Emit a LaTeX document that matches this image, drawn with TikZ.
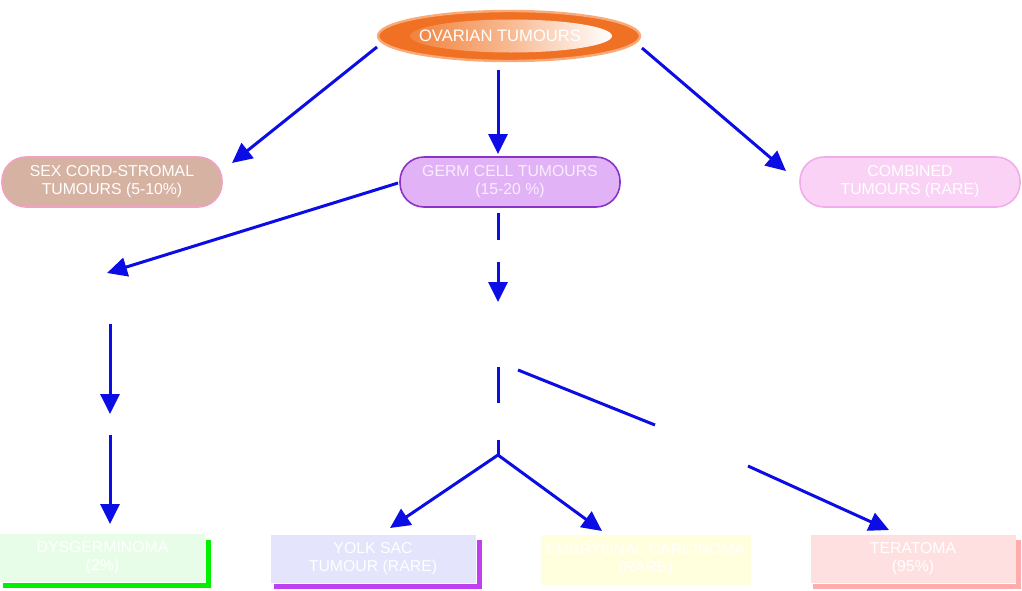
\documentclass[tikz,border=0pt]{standalone}
\usepackage{fontspec}
\setmainfont{Liberation Sans}
\usetikzlibrary{arrows.meta,shapes.geometric}
\definecolor{arr}{RGB}{12,12,228}
\definecolor{sexfill}{RGB}{214,178,162}
\definecolor{sexdraw}{RGB}{242,160,195}
\definecolor{germfill}{RGB}{226,178,246}
\definecolor{germdraw}{RGB}{140,50,200}
\definecolor{germtext}{RGB}{248,238,254}
\definecolor{combfill}{RGB}{250,210,246}
\definecolor{combdraw}{RGB}{242,172,236}
\definecolor{dysfill}{RGB}{232,253,232}
\definecolor{dysshadow}{RGB}{0,240,0}
\definecolor{yolkfill}{RGB}{228,228,252}
\definecolor{yolkshadow}{RGB}{192,64,240}
\definecolor{yelfill}{RGB}{255,255,222}
\definecolor{terafill}{RGB}{255,224,224}
\definecolor{terashadow}{RGB}{255,172,172}
\definecolor{ovorange}{RGB}{240,112,36}
\definecolor{ovhalo}{RGB}{248,170,120}
\definecolor{ovinner}{RGB}{242,130,60}
\begin{document}
\begin{tikzpicture}[x=0.5pt,y=-0.5pt,
  every node/.style={font=\fontsize{7.9}{9}\selectfont, align=center, inner sep=0pt},
  pill/.style={rectangle, rounded corners=12pt, minimum width=110pt, minimum height=25pt, line width=0.8pt, text=white},
  leaf/.style={rectangle, minimum width=102.5pt, minimum height=24pt, text=white},
  shadowline/.style={line width=2.5pt},
  conn/.style={draw=arr, line width=1.5pt},
  arrowconn/.style={conn, -{Triangle[length=10pt,width=9.5pt]}}]
\useasboundingbox (0,0) rectangle (1022,590);

% top ellipse
\node[ellipse, minimum width=131pt, minimum height=25pt, fill=ovorange, draw=ovhalo, line width=1.2pt] (ov) at (509,36) {};
\shade[left color=ovinner, right color=white, middle color=white!45!ovinner] ([xshift=1]ov.center) ellipse [x radius=101, y radius=16.5];
\node[text=white, font=\fontsize{8.3}{9}\selectfont] (ovt) at (500,36) {OVARIAN TUMOURS};

% second row
\node[pill, fill=sexfill, draw=sexdraw] (sex) at (112,182) {SEX CORD-STROMAL\\TUMOURS (5-10\%)};
\node[pill, fill=germfill, draw=germdraw, text=germtext] (germ) at (510,182) {GERM CELL TUMOURS\\(15-20 \%)};
\node[pill, fill=combfill, draw=combdraw] (comb) at (910,182) {COMBINED\\TUMOURS (RARE)};

% bottom row
\node[leaf, fill=dysfill] (dys) at (102.5,558) {DYSGERMINOMA\\(2\%)};
\draw[shadowline, draw=dysshadow] ([shift={(3,6)}]dys.north east) -- ([shift={(3,3)}]dys.south east) -- ([shift={(3,3)}]dys.south west);
\node[leaf, fill=yolkfill] (yolk) at (373,558.5) {YOLK SAC\\TUMOUR (RARE)};
\draw[shadowline, draw=yolkshadow] ([shift={(4,6)}]yolk.north east) -- ([shift={(4,4)}]yolk.south east) -- ([shift={(4,4)}]yolk.south west);
\node[leaf, fill=yelfill, minimum width=105pt, minimum height=25pt] (yel) at (645.5,560) {EMBRYONAL CARCINOMA\\(RARE)};
\node[leaf, fill=terafill] (tera) at (913,558.5) {TERATOMA\\(95\%)};
\draw[shadowline, draw=terashadow] ([shift={(3,6)}]tera.north east) -- ([shift={(3,4)}]tera.south east) -- ([shift={(3,4)}]tera.south west);

% connector coordinates
\coordinate (a1) at (377,47);  \coordinate (a1e) at (232,163);
\coordinate (a2) at (498,70);  \coordinate (a2e) at (498,154);
\coordinate (a3) at (642,48);  \coordinate (a3e) at (786,171);
\coordinate (g1) at (398,183); \coordinate (d1) at (107,273);
\coordinate (g2) at (498,213); \coordinate (g2b) at (498,240);
\coordinate (g3) at (498,262); \coordinate (n1) at (498,302);
\coordinate (d2) at (110,324); \coordinate (d3) at (110,414);
\coordinate (d4) at (110,435); \coordinate (d5) at (110,524);
\coordinate (n2) at (498,367); \coordinate (n3) at (498,403);
\coordinate (n4) at (498,440); \coordinate (fork) at (498,455);
\coordinate (ye) at (390,528); \coordinate (ce) at (602,531);
\coordinate (t1) at (518,370); \coordinate (t2) at (655,425);
\coordinate (t3) at (748,466); \coordinate (te) at (889,530);

\draw[arrowconn] (a1) -- (a1e);
\draw[arrowconn] (a2) -- (a2e);
\draw[arrowconn] (a3) -- (a3e);
\draw[arrowconn] (g1) -- (d1);
\draw[conn] (g2) -- (g2b);
\draw[arrowconn] (g3) -- (n1);
\draw[arrowconn] (d2) -- (d3);
\draw[arrowconn] (d4) -- (d5);
\draw[conn] (n2) -- (n3);
\draw[conn] (n4) -- (fork);
\draw[arrowconn] (fork) -- (ye);
\draw[arrowconn] (fork) -- (ce);
\draw[conn] (t1) -- (t2);
\draw[arrowconn] (t3) -- (te);
\end{tikzpicture}
\end{document}
